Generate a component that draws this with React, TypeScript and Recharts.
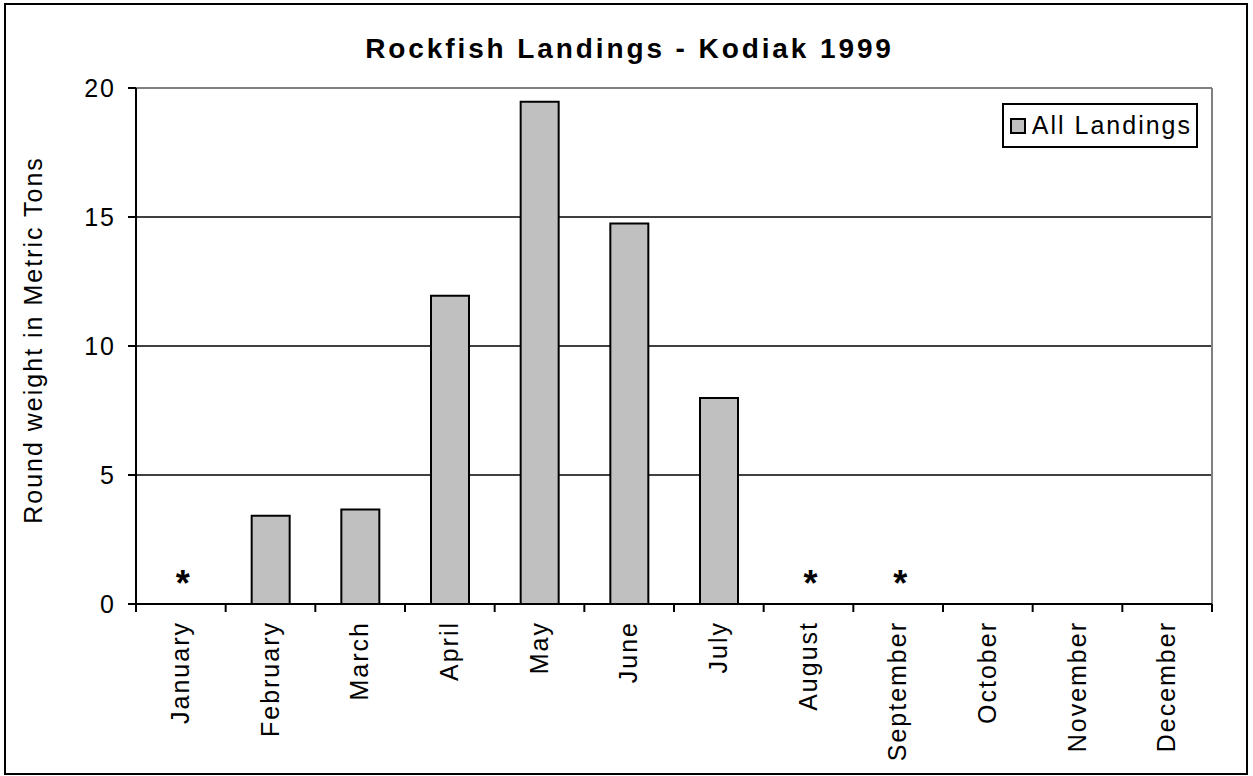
import React from "react";
import {
  ComposedChart,
  Bar,
  Scatter,
  XAxis,
  YAxis,
  CartesianGrid,
  ReferenceLine,
  Legend,
  Label,
} from "recharts";

const months = [
  "January", "February", "March", "April", "May", "June",
  "July", "August", "September", "October", "November", "December",
];
const landings = [0, 3.42, 3.66, 11.95, 19.47, 14.75, 7.98, 0, 0, 0, 0, 0];
// months whose landings are confidential (marked with an asterisk)
const confidential = [true, false, false, false, false, false, false, true, true, false, false, false];
const yTicks = [0, 5, 10, 15, 20];

const data = months.map((m, i) => ({
  month: m,
  landings: landings[i],
  mark: confidential[i] ? 0 : null,
}));

const FONT = "'Liberation Sans', Arial, Helvetica, sans-serif";
const TICK_MARGIN = 17;
const TICK_LEN = 8;

const MonthTick = (props: any) => {
  const { x, y, payload, index, visibleTicksCount, width } = props;
  const count = visibleTicksCount || months.length;
  const band = Number(width) / count;
  const axisY = y - TICK_MARGIN;
  const left = x - band / 2;
  const right = x + band / 2;
  return (
    <g>
      {isFinite(band) && (
        <line x1={left} x2={left} y1={axisY} y2={axisY + TICK_LEN} stroke="#000" strokeWidth={2} />
      )}
      {isFinite(band) && index === count - 1 && (
        <line x1={right} x2={right} y1={axisY} y2={axisY + TICK_LEN} stroke="#000" strokeWidth={2} />
      )}
      <text
        transform={`translate(${x + 8}, ${y}) rotate(-90)`}
        textAnchor="end"
        fontFamily={FONT}
        fontSize={25}
        letterSpacing={2}
        fill="#000"
      >
        {payload.value}
      </text>
    </g>
  );
};

const AsteriskShape = (props: any) => {
  const { cx, cy } = props;
  if (cx == null || cy == null || isNaN(cx) || isNaN(cy)) return <g />;
  return (
    <text
      x={cx + 2}
      y={cy - 8}
      textAnchor="middle"
      fontFamily={FONT}
      fontWeight="bold"
      fontSize={36}
      fill="#000"
    >
      *
    </text>
  );
};

const LegendBox = () => (
  <div
    style={{
      display: "flex",
      alignItems: "center",
      border: "2px solid #000",
      height: 45,
      boxSizing: "border-box",
      padding: "0 4px 0 6px",
      background: "#fff",
      fontFamily: FONT,
      fontSize: 25,
      letterSpacing: 2,
      whiteSpace: "nowrap",
    }}
  >
    <span
      style={{
        display: "inline-block",
        width: 16,
        height: 16,
        background: "#c0c0c0",
        border: "2px solid #000",
        marginRight: 6,
        boxSizing: "border-box",
      }}
    />
    <span>All Landings</span>
  </div>
);

const rightEdge = (args: any) => {
  const o = args && args.offset;
  if (!o) return [];
  return [o.left + o.width];
};

export default function App() {
  return (
    <div
      style={{
        position: "absolute",
        left: 0,
        top: 0,
        width: 1253,
        height: 776,
        background: "#fff",
        fontFamily: FONT,
      }}
    >
      <div
        style={{
          position: "absolute",
          left: 4,
          top: 3,
          width: 1244,
          height: 772,
          border: "2px solid #000",
          boxSizing: "border-box",
        }}
      />
      <div
        style={{
          position: "absolute",
          left: 0,
          top: 35,
          width: 1259,
          textAlign: "center",
          fontFamily: FONT,
          fontWeight: "bold",
          fontSize: 28,
          lineHeight: "28px",
          letterSpacing: 2.9,
          color: "#000",
        }}
      >
        Rockfish Landings - Kodiak 1999
      </div>
      <div style={{ position: "absolute", left: 0, top: 0 }}>
        <ComposedChart
          width={1253}
          height={776}
          data={data}
          margin={{ top: 88, right: 41, bottom: 22, left: 36 }}
        >
          <CartesianGrid
            vertical={false}
            stroke="#000"
            strokeWidth={1.5}
          />
          <CartesianGrid
            horizontal={false}
            verticalCoordinatesGenerator={rightEdge}
            stroke="#808080"
            strokeWidth={2}
          />
          <XAxis
            dataKey="month"
            interval={0}
            height={150}
            tickSize={0}
            tickMargin={TICK_MARGIN}
            axisLine={{ stroke: "#000", strokeWidth: 2 }}
            tickLine={false}
            tick={<MonthTick />}
          />
          <YAxis
            domain={[0, 20]}
            ticks={yTicks}
            width={100}
            tickSize={8}
            tickMargin={12}
            axisLine={{ stroke: "#000", strokeWidth: 2 }}
            tickLine={{ stroke: "#000", strokeWidth: 2 }}
            tick={{
              fill: "#000",
              fontSize: 25,
              fontFamily: FONT,
              letterSpacing: 2,
            }}
          >
            <Label
              value="Round weight in Metric Tons"
              angle={-90}
              position="center"
              dx={-53}
              dy={-6}
              style={{
                fontSize: 25,
                fontFamily: FONT,
                letterSpacing: 2,
                fill: "#000",
                textAnchor: "middle",
              }}
            />
          </YAxis>
          <ReferenceLine y={20} stroke="#808080" strokeWidth={2} />
          <Legend
            layout="vertical"
            align="center"
            verticalAlign="middle"
            content={<LegendBox />}
            wrapperStyle={{ top: 103, right: 55, left: "auto", width: "auto" }}
          />
          <Bar
            dataKey="landings"
            name="All Landings"
            fill="#c0c0c0"
            stroke="#000"
            strokeWidth={2}
            barSize={38}
            isAnimationActive={false}
          />
          <Scatter
            dataKey="mark"
            name="Confidential"
            shape={<AsteriskShape />}
            legendType="none"
            isAnimationActive={false}
          />
        </ComposedChart>
      </div>
    </div>
  );
}
